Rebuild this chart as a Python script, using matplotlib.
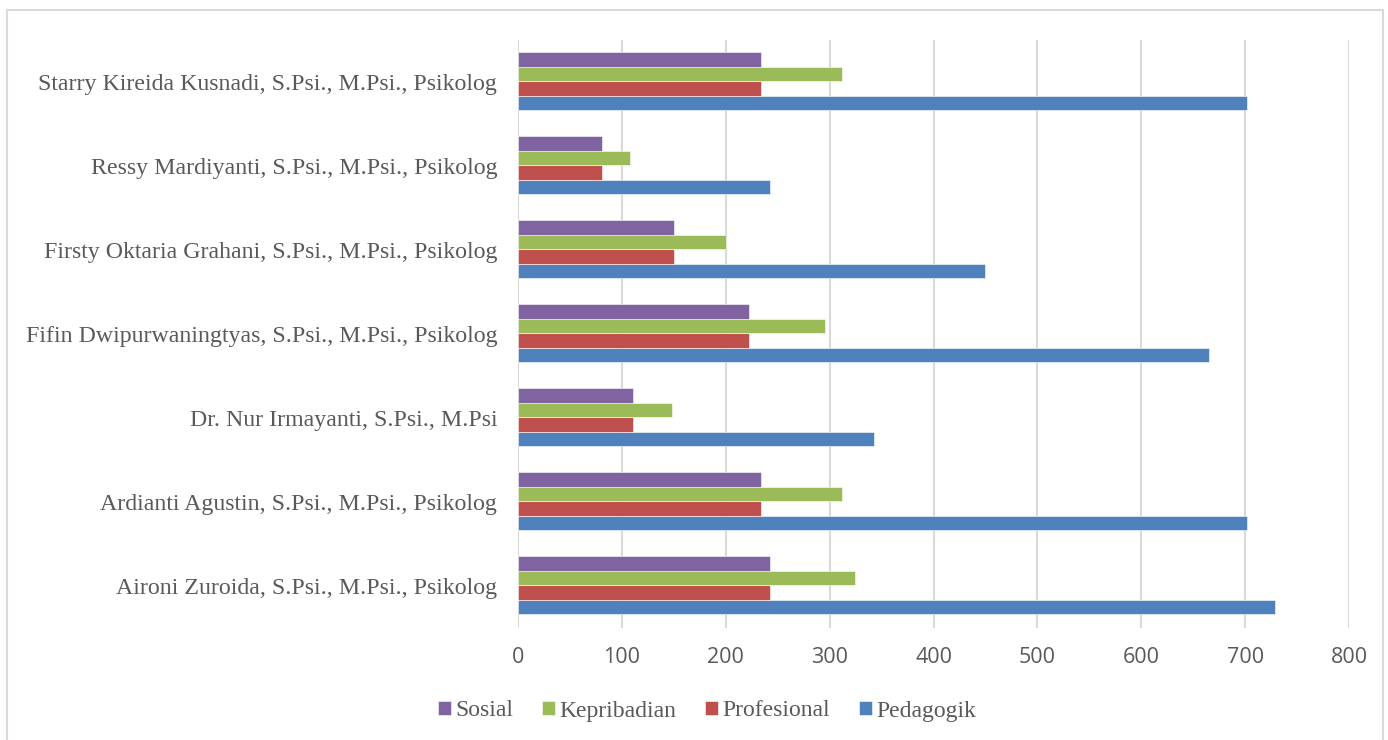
import matplotlib.pyplot as plt
import numpy as np
from matplotlib.patches import Rectangle

# data
names = ["Aironi Zuroida, S.Psi., M.Psi., Psikolog",
         "Ardianti Agustin, S.Psi., M.Psi., Psikolog",
         "Dr. Nur Irmayanti, S.Psi., M.Psi",
         "Fifin Dwipurwaningtyas, S.Psi., M.Psi., Psikolog",
         "Firsty Oktaria Grahani, S.Psi., M.Psi., Psikolog",
         "Ressy Mardiyanti, S.Psi., M.Psi., Psikolog",
         "Starry Kireida Kusnadi, S.Psi., M.Psi., Psikolog"]
pedagogik = [729, 702, 343, 665, 450, 243, 702]
profesional = [243, 234, 111, 222, 150, 81, 234]
kepribadian = [324, 312, 148, 296, 200, 108, 312]
sosial = [243, 234, 111, 222, 150, 81, 234]

series = [("Pedagogik", pedagogik, "#4F81BD"),
          ("Profesional", profesional, "#C0504D"),
          ("Kepribadian", kepribadian, "#9BBB59"),
          ("Sosial", sosial, "#8064A2")]

fig = plt.figure(figsize=(13.88, 7.40), dpi=100)
ax = fig.add_axes([518/1388, 1 - 628/740, (1349-518)/1388, 588/740])

# grey frame around the whole chart
fig.patches.append(Rectangle((7/1388, -0.05), 1376/1388, 1.05 - 10/740, transform=fig.transFigure,
                             fill=False, edgecolor="#d9d9d9", linewidth=1.5))

y = np.arange(len(names))
h = 0.172
for i, (label, vals, col) in enumerate(series):
    ax.barh(y + (i - 1.5) * h + 0.01, vals, height=h, color=col, edgecolor="white", linewidth=0.4,
            label=label, zorder=3)

ax.set_xlim(0, 800)
ax.set_ylim(-0.5, 6.5)
ax.set_xticks(np.arange(0, 801, 100))
ax.set_yticks(y)
ax.set_yticklabels(names, family="Liberation Serif", fontsize=17.2, color="#595959")
ax.tick_params(axis="x", labelsize=15.5, colors="#595959", length=0, pad=14)
ax.tick_params(axis="y", length=0, pad=15)
for lbl in ax.get_xticklabels():
    lbl.set_family("Open Sans")
ax.grid(axis="x", color="#d9d9d9", linewidth=1.5, zorder=0)
for s in ax.spines.values():
    s.set_visible(False)

handles, labels = ax.get_legend_handles_labels()
leg = fig.legend(handles[::-1], labels[::-1], loc="center", bbox_to_anchor=(707/1388, 1 - 711/740),
                 ncol=4, frameon=False, prop={"family": "Liberation Serif", "size": 17},
                 handlelength=0.55, handleheight=0.55, handletextpad=0.2, columnspacing=1.2)
for t in leg.get_texts():
    t.set_color("#595959")

fig.savefig("out.png", dpi=100)
